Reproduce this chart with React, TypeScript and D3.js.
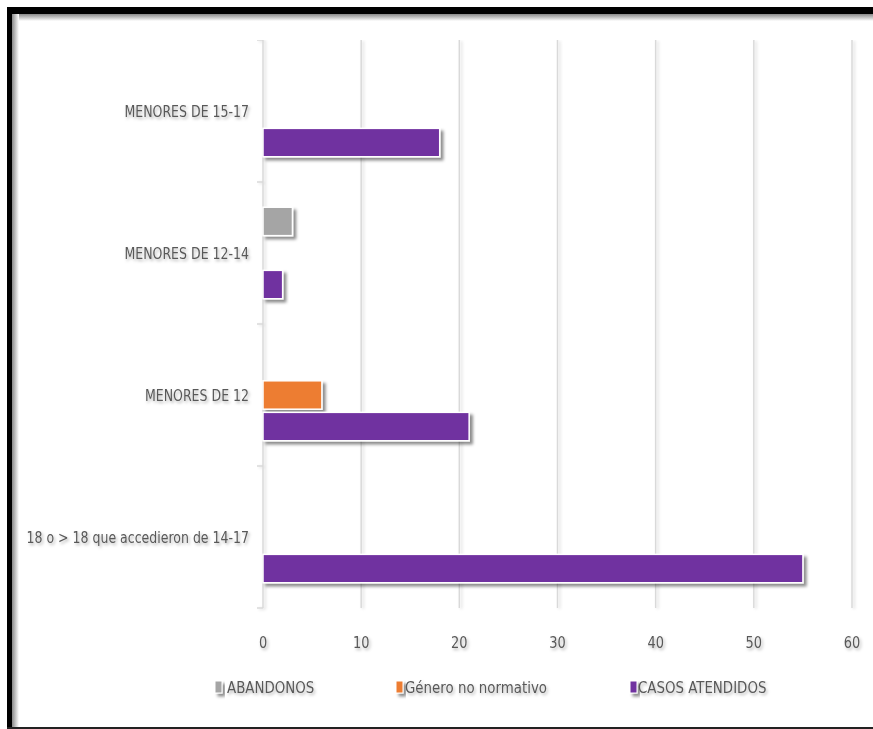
import React from "react";
import * as d3 from "d3";

const categories = [
  "MENORES DE 15-17",
  "MENORES DE 12-14",
  "MENORES DE 12",
  "18 o > 18 que accedieron de 14-17",
];
const seriesNames = ["ABANDONOS", "Género no normativo", "CASOS ATENDIDOS"];
const abandonos = [0, 3, 0, 0];
const generoNoNormativo = [0, 0, 6, 0];
const casosAtendidos = [18, 2, 21, 55];
const xTicks = [0, 10, 20, 30, 40, 50, 60];
const colors = ["#A5A5A5", "#ED7D31", "#7030A0"];

const W = 873;
const H = 729;
const FONT = "'DejaVu Sans Condensed', 'Liberation Sans Narrow', 'Open Sans', sans-serif";

export default function App() {
  const x = d3.scaleLinear().domain([0, 60]).range([263, 852]);
  const y = d3.scaleBand().domain(categories).range([40, 608]).paddingInner(0).paddingOuter(0);
  const inner = d3
    .scaleBand()
    .domain(seriesNames)
    .range([0, y.bandwidth()])
    .paddingInner(0.1)
    .paddingOuter(0.8);
  const seriesValues = [abandonos, generoNoNormativo, casosAtendidos];
  const boundaries = [...categories.map((c) => y(c) as number), 608];

  return (
    <svg
      width={W}
      height={H}
      style={{ position: "absolute", left: 0, top: 0, background: "#fff" }}
      fontFamily={FONT}
    >
      <defs>
        <filter id="sh" x="-20%" y="-20%" width="150%" height="180%">
          <feDropShadow dx="3" dy="3" stdDeviation="1.8" floodColor="#000" floodOpacity="0.45" />
        </filter>
        <filter id="tsh" x="-10%" y="-30%" width="130%" height="180%">
          <feDropShadow dx="1.5" dy="2" stdDeviation="1.5" floodColor="#000" floodOpacity="0.3" />
        </filter>
        <filter id="gsh" x="-200%" y="0%" width="500%" height="105%">
          <feDropShadow dx="2" dy="1" stdDeviation="1.5" floodColor="#000" floodOpacity="0.15" />
        </filter>
        <linearGradient id="topG" x1="0" y1="0" x2="0" y2="1">
          <stop offset="0" stopColor="#888" />
          <stop offset="1" stopColor="#fff" />
        </linearGradient>
        <linearGradient id="leftG" x1="0" y1="0" x2="1" y2="0">
          <stop offset="0" stopColor="#888" />
          <stop offset="1" stopColor="#fff" />
        </linearGradient>
      </defs>
      <rect x={0} y={0} width={W} height={H} fill="#fff" />
      {/* frame */}
      <rect x={13} y={14} width={W - 13} height={7} fill="url(#topG)" />
      <rect x={12} y={14} width={7} height={H - 16} fill="url(#leftG)" />
      <rect x={7} y={7} width={W - 7} height={7} fill="#000" />
      <rect x={7} y={7} width={5} height={H - 7} fill="#000" />
      <rect x={7} y={727} width={W - 7} height={2} fill="#222" />

      {/* gridlines */}
      <g filter="url(#gsh)">
        {xTicks.map((t) => (
          <line key={t} x1={x(t)} x2={x(t)} y1={40} y2={608} stroke="#d9d9d9" strokeWidth={1.5} />
        ))}
        {boundaries.map((b, i) => (
          <line key={"tk" + i} x1={257} x2={263} y1={b} y2={b} stroke="#d9d9d9" strokeWidth={1.5} />
        ))}
      </g>

      {/* bars */}
      {seriesValues.map((vals, si) =>
        vals.map((v, ci) =>
          v > 0 ? (
            <rect
              key={si + "-" + ci}
              x={x(0)}
              y={(y(categories[ci]) as number) + (inner(seriesNames[si]) as number)}
              width={x(v) - x(0)}
              height={inner.bandwidth()}
              fill={colors[si]}
              stroke="#fff"
              strokeWidth={1.5}
              filter="url(#sh)"
            />
          ) : null
        )
      )}

      {/* category labels */}
      <g filter="url(#tsh)">
        {categories.map((c) => (
          <g key={c} transform={`translate(249,${(y(c) as number) + y.bandwidth() / 2}) scale(0.9,1)`}>
            <text textAnchor="end" dominantBaseline="central" fontSize={15.5} fill="#595959">
              {c}
            </text>
          </g>
        ))}
        {xTicks.map((t) => (
          <g key={"x" + t} transform={`translate(${x(t)},643) scale(0.9,1)`}>
            <text textAnchor="middle" dominantBaseline="central" fontSize={16} fill="#595959">
              {t}
            </text>
          </g>
        ))}
      </g>

      {/* legend */}
      {[
        { name: seriesNames[0], mx: 215, tx: 227 },
        { name: seriesNames[1], mx: 396, tx: 405 },
        { name: seriesNames[2], mx: 630, tx: 638 },
      ].map((l, i) => (
        <g key={l.name}>
          <rect x={l.mx} y={681} width={7} height={12} fill={colors[i]} stroke="#fff" strokeWidth={1} filter="url(#sh)" />
          <g transform={`translate(${l.tx},688) scale(0.93,1)`} filter="url(#tsh)">
            <text dominantBaseline="central" fontSize={16} fill="#595959">
              {l.name}
            </text>
          </g>
        </g>
      ))}
    </svg>
  );
}
